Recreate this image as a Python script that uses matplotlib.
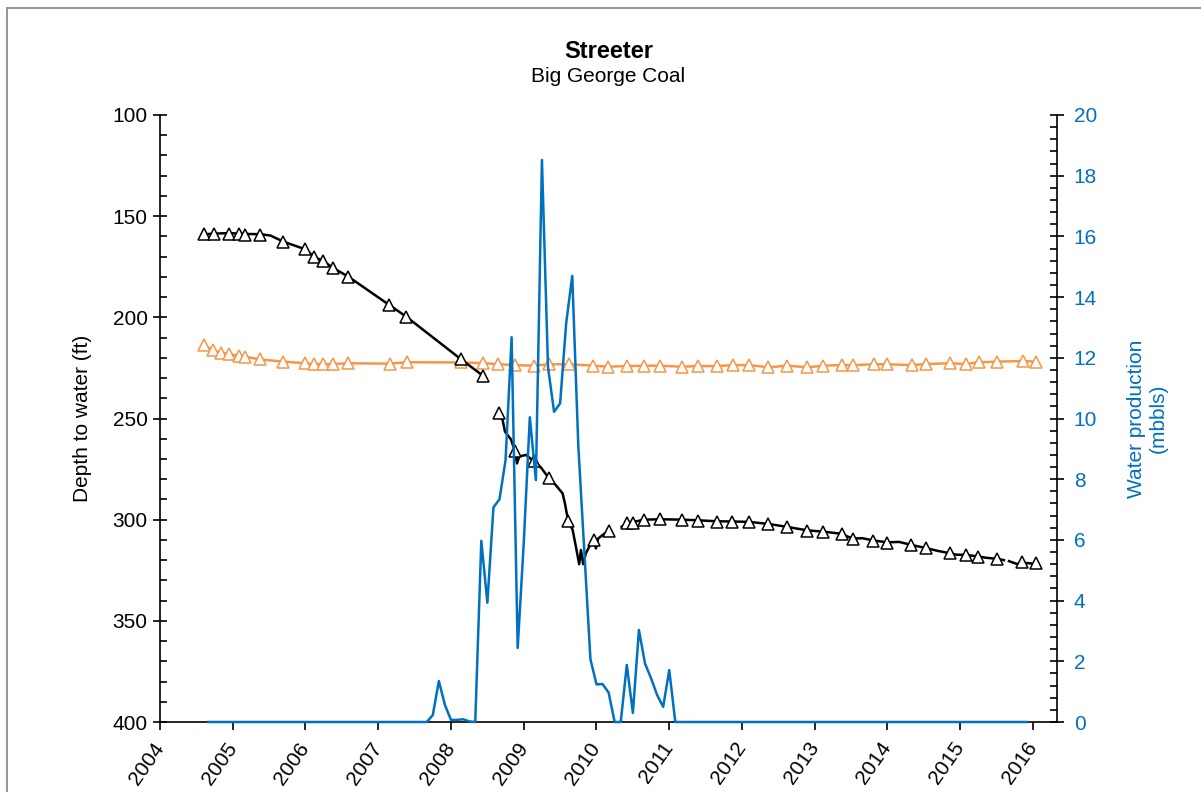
import matplotlib
matplotlib.use("Agg")
import matplotlib.pyplot as plt
from matplotlib.ticker import MultipleLocator
from matplotlib.lines import Line2D
import numpy as np
import pandas as pd

plt.rcParams['font.family'] = ['Liberation Sans', 'DejaVu Sans']

# ---- Well 1 (black): manual depth-to-water measurements (decimal year, ft) ----
well1_manual_year = [2004.603, 2004.740, 2004.946, 2005.092, 2005.170, 2005.380, 2005.696,
                     2005.999, 2006.114, 2006.246, 2006.375, 2006.589, 2007.152, 2007.386,
                     2008.137, 2008.444, 2008.655, 2008.883, 2009.136, 2009.342, 2009.611,
                     2009.960, 2010.166, 2010.418, 2010.496, 2010.655, 2010.875, 2011.173,
                     2011.389, 2011.663, 2011.869, 2012.098, 2012.364, 2012.625, 2012.900,
                     2013.114, 2013.371, 2013.526, 2013.806, 2013.999, 2014.328, 2014.525,
                     2014.859, 2015.075, 2015.249, 2015.510, 2015.854, 2016.036]
well1_manual_depth = [159.0, 159.0, 159.0, 159.0, 159.3, 159.3, 162.6,
                      166.4, 170.0, 172.2, 175.5, 179.9, 193.9, 199.7,
                      220.7, 229.0, 247.4, 266.1, 271.0, 279.3, 300.7,
                      310.1, 305.5, 301.8, 301.5, 300.2, 299.9, 300.2,
                      300.5, 301.0, 301.0, 301.3, 302.3, 303.5, 305.5,
                      306.0, 307.2, 309.7, 310.4, 311.4, 312.5, 314.2,
                      316.6, 317.5, 318.3, 319.4, 321.1, 321.6]

# ---- Well 1 (black): continuous record; NaN marks gaps in the record ----
well1_logger_year = [2004.603, 2004.740, 2004.946, 2005.092, 2005.170, 2005.380, 2005.520,
                     2005.696, 2005.999, 2006.114, 2006.246, 2006.375, 2006.589, 2007.152,
                     2007.386, 2008.137, 2008.444, np.nan,
                     2008.655, 2008.710, 2008.742, 2008.824, 2008.879, 2008.907, 2008.938,
                     2009.030, 2009.136, 2009.236, 2009.342, 2009.442, 2009.534, 2009.566,
                     2009.611, 2009.672, 2009.717, 2009.762, 2009.786, 2009.817, 2009.854,
                     2009.900, 2009.960, 2009.992, 2010.023, 2010.084, 2010.166, np.nan,
                     2010.345, 2010.418, 2010.496, 2010.655, 2010.875, 2011.173, 2011.389,
                     2011.663, 2011.869, 2012.098, 2012.364, 2012.625, 2012.900, 2013.114,
                     2013.371, 2013.450, 2013.526, 2013.660, 2013.806, 2013.999, 2014.160,
                     2014.328, 2014.525, 2014.700, 2014.859, 2014.950, 2015.075, 2015.249,
                     2015.350, 2015.510, 2015.600, np.nan,
                     2015.670, 2015.780, 2015.854, 2016.036]
well1_logger_depth = [159.0, 158.6, 158.4, 158.6, 158.8, 158.9, 159.6,
                      162.6, 166.4, 170.0, 172.2, 175.5, 179.9, 193.9,
                      199.7, 220.7, 229.0, np.nan,
                      247.4, 250.8, 256.5, 260.3, 266.1, 272.2, 268.8,
                      268.0, 271.0, 274.2, 279.3, 283.0, 287.0, 292.0,
                      300.7, 305.0, 313.4, 322.0, 315.0, 322.0, 316.6,
                      313.4, 310.0, 314.2, 309.3, 307.6, 305.4, np.nan,
                      303.5, 301.8, 301.2, 300.0, 299.8, 300.0, 300.3,
                      300.8, 300.9, 301.1, 302.1, 303.6, 305.3, 305.9,
                      307.0, 308.3, 309.3, 309.2, 310.3, 311.2, 311.0,
                      312.5, 314.0, 315.5, 316.6, 317.3, 317.4, 318.2,
                      318.8, 319.4, 320.0, np.nan,
                      320.5, 321.9, 321.3, 321.8]

# ---- Well 2 (orange): manual depth-to-water measurements ----
well2_year = [2004.603, 2004.727, 2004.841, 2004.947, 2005.092, 2005.170, 2005.380,
              2005.696, 2005.999, 2006.114, 2006.246, 2006.375, 2006.589, 2007.158,
              2007.389, 2008.137, 2008.444, 2008.652, 2008.883, 2009.136, 2009.350,
              2009.617, 2009.955, 2010.161, 2010.414, 2010.655, 2010.875, 2011.173,
              2011.389, 2011.663, 2011.883, 2012.098, 2012.364, 2012.625, 2012.900,
              2013.114, 2013.380, 2013.532, 2013.815, 2013.999, 2014.332, 2014.525,
              2014.855, 2015.074, 2015.257, 2015.510, 2015.867, 2016.036]
well2_depth = [213.7, 216.2, 217.5, 218.1, 219.1, 219.5, 220.8,
               221.9, 222.7, 223.1, 223.1, 223.1, 222.7, 222.9,
               222.2, 222.3, 222.6, 223.2, 223.6, 223.9, 223.2,
               223.2, 223.9, 224.4, 224.1, 223.9, 223.9, 224.4,
               224.1, 224.1, 223.6, 223.6, 224.7, 223.9, 224.7,
               223.9, 223.6, 223.6, 223.2, 223.2, 223.6, 223.1,
               222.7, 223.1, 222.2, 221.9, 221.6, 221.9]

# ---- Monthly water production (mbbls), Sep 2004 - Dec 2015 ----
production_start = "2004-09"
production_mbbls = [
    0.0, 0.0, 0.0, 0.0,                                                    # 2004 Sep-Dec
    0.0, 0.0, 0.0, 0.0, 0.0, 0.0, 0.0, 0.0, 0.0, 0.0, 0.0, 0.0,            # 2005
    0.0, 0.0, 0.0, 0.0, 0.0, 0.0, 0.0, 0.0, 0.0, 0.0, 0.0, 0.0,            # 2006
    0.0, 0.0, 0.0, 0.0, 0.0, 0.0, 0.0, 0.0, 0.0, 0.23, 1.35, 0.56,         # 2007
    0.07, 0.07, 0.09, 0.02, 0.0, 5.97, 3.93, 7.07, 7.34, 8.63, 12.68, 2.44,  # 2008
    5.9, 10.04, 7.97, 18.52, 11.7, 10.22, 10.5, 13.14, 14.7, 9.1, 5.6, 2.07,  # 2009
    1.24, 1.25, 0.97, 0.0, 0.0, 1.88, 0.3, 3.03, 1.93, 1.44, 0.89, 0.5,    # 2010
    1.71, 0.0, 0.0, 0.0, 0.0, 0.0, 0.0, 0.0, 0.0, 0.0, 0.0, 0.0,           # 2011
    0.0, 0.0, 0.0, 0.0, 0.0, 0.0, 0.0, 0.0, 0.0, 0.0, 0.0, 0.0,            # 2012
    0.0, 0.0, 0.0, 0.0, 0.0, 0.0, 0.0, 0.0, 0.0, 0.0, 0.0, 0.0,            # 2013
    0.0, 0.0, 0.0, 0.0, 0.0, 0.0, 0.0, 0.0, 0.0, 0.0, 0.0, 0.0,            # 2014
    0.0, 0.0, 0.0, 0.0, 0.0, 0.0, 0.0, 0.0, 0.0, 0.0, 0.0, 0.0,            # 2015
]

year_ticks = list(range(2004, 2017))
depth_ticks = [100, 150, 200, 250, 300, 350, 400]
production_ticks = [0, 2, 4, 6, 8, 10, 12, 14, 16, 18, 20]

BLUE = "#0070C0"
ORANGE = "#F79646"

months = pd.date_range(production_start, periods=len(production_mbbls), freq="MS")
production_year = months.year + (months.month - 1) / 12.0

W, H = 1201, 792
fig = plt.figure(figsize=(W / 100, H / 100), dpi=100)
ax = fig.add_axes([160 / W, 1 - 722 / H, (1057 - 160) / W, (722 - 115) / H])
ax2 = ax.twinx()

# depth series
ax.plot(well2_year, well2_depth, color=ORANGE, lw=1.8, marker="^", ms=8,
        mfc="white", mec=ORANGE, mew=1.1, zorder=3)
ax.plot(well1_logger_year, well1_logger_depth, color="black", lw=1.8, zorder=4)
ax.plot(well1_manual_year, well1_manual_depth, ls="none", marker="^", ms=8,
        mfc="white", mec="black", mew=1.1, zorder=5)

# production series
ax2.plot(production_year, production_mbbls, color=BLUE, lw=1.8, clip_on=False, zorder=3)

ax.set_xlim(2004, 2016.33)
ax.set_ylim(400, 100)
ax2.set_ylim(0, 20)

ax.set_xticks(year_ticks)
ax.set_xticklabels([str(y) for y in year_ticks], rotation=55, ha="right",
                   va="center", rotation_mode="anchor")
ax.set_yticks(depth_ticks)
ax.yaxis.set_minor_locator(MultipleLocator(10))
ax2.set_yticks(production_ticks)
ax2.yaxis.set_minor_locator(MultipleLocator(0.4))

for a in (ax, ax2):
    a.spines["top"].set_visible(False)
    for s in a.spines.values():
        s.set_linewidth(1.2)
ax.spines["right"].set_visible(False)
ax2.spines["left"].set_visible(False)
ax2.spines["bottom"].set_visible(False)

ax.tick_params(axis="x", direction="out", length=6, width=1.2, labelsize=15, pad=10)
ax.tick_params(axis="y", which="major", direction="inout", length=10, width=1.2,
               labelsize=15, pad=4)
ax.tick_params(axis="y", which="minor", direction="in", length=5, width=1.2)
ax2.tick_params(axis="y", which="major", direction="inout", length=10, width=1.2,
                labelsize=15, labelcolor=BLUE, pad=7)
ax2.tick_params(axis="y", which="minor", direction="in", length=5, width=1.2)

ax.set_ylabel("Depth to water (ft)", fontsize=15)
ax.yaxis.set_label_coords((82 - 160) / 897, 0.5)
ax.yaxis.label.set_va("center")
ax.yaxis.label.set_ha("center")

ax2.set_ylabel("Water production\n(mbbls)", fontsize=15, color=BLUE, rotation=90)
ax2.yaxis.set_label_coords((1147 - 160) / 897, 0.5)
ax2.yaxis.label.set_va("center")
ax2.yaxis.label.set_ha("center")
ax2.yaxis.label.set_multialignment("center")

cx = (160 + 1057) / 2 / W
fig.text(cx, 1 - 52 / H, "Streeter", fontsize=17, fontweight="bold",
         ha="center", va="center")
fig.text(cx, 1 - 77 / H, "Big George Coal", fontsize=15, ha="center", va="center")

# chart-area frame
fig.add_artist(Line2D([7 / W, 7 / W], [0, 1 - 8 / H], transform=fig.transFigure,
                      color="#8c8c8c", lw=1.3))
fig.add_artist(Line2D([7 / W, 1], [1 - 8 / H, 1 - 8 / H], transform=fig.transFigure,
                      color="#8c8c8c", lw=1.3))

fig.savefig("out.png", dpi=100, facecolor="white")
